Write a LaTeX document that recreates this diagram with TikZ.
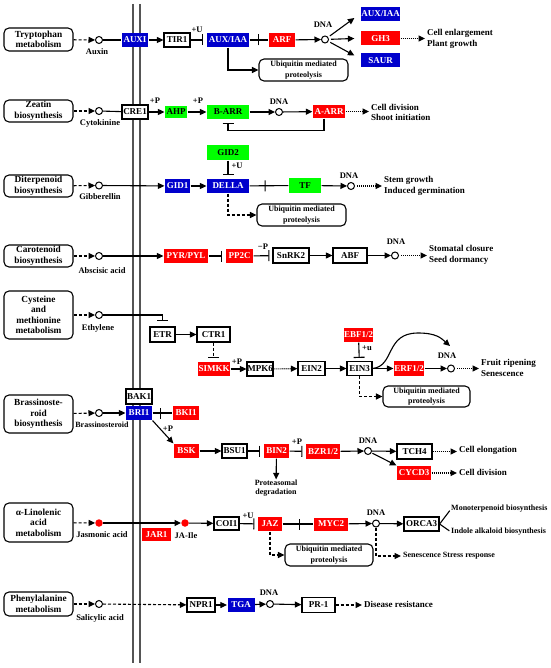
\documentclass[tikz,border=0pt]{standalone}
\usepackage{fontspec}
\setmainfont{Liberation Serif}
\usetikzlibrary{arrows.meta,decorations.markings}
\definecolor{kred}{RGB}{255,0,0}
\definecolor{kblue}{RGB}{0,0,204}
\definecolor{kgreen}{RGB}{0,255,0}
\definecolor{memgray}{RGB}{85,85,85}
\begin{document}
\begin{tikzpicture}[x=1pt, y=-1pt,
  every node/.style={font=\fontsize{9}{10.5}\selectfont\bfseries, align=center, inner sep=0pt},
  gene/.style={rectangle, minimum height=14pt, line width=1.2pt},
  gred/.style={gene, fill=kred, text=white},
  gblue/.style={gene, fill=kblue, text=white},
  ggreen/.style={gene, fill=kgreen, text=black},
  gwhite/.style={gene, draw=black, fill=white},
  pathbox/.style={rectangle, rounded corners=5pt, draw=black, line width=1.1pt, fill=white, minimum width=69pt, font=\fontsize{9.3}{10.5}\selectfont\bfseries},
  ubqbox/.style={rectangle, rounded corners=5pt, draw=black, line width=1.1pt, fill=white, font=\fontsize{8}{10.5}\selectfont\bfseries},
  metab/.style={circle, draw=black, line width=1pt, fill=white, minimum size=7pt},
  jamet/.style={circle, fill=kred, minimum size=7.5pt},
  dnac/.style={circle, draw=black, line width=1pt, fill=white, minimum size=7pt},
  lbl/.style={font=\fontsize{8.5}{10}\selectfont\bfseries},
  small/.style={font=\fontsize{8}{9.5}\selectfont\bfseries},
  outtxt/.style={anchor=west, align=left},
  link/.style={line width=1.1pt},
  arr/.style={link, -{Triangle[length=6.5pt,width=6pt]}},
  darr/.style={arr, dash pattern=on 3pt off 2pt},
  oarr/.style={arr, dash pattern=on 1pt off 1pt},
  inh/.style={link, -{Bar[width=11pt,line width=1.1pt]}, shorten >=3pt},
  dinh/.style={inh, dash pattern=on 3pt off 2pt},
  midbar/.style={postaction={decorate}, decoration={markings, mark=at position #1 with {\draw[line width=1.1pt] (0,-5.5pt) -- (0,5.5pt);}}},
  memline/.style={draw=memgray, line width=2pt}
]
\useasboundingbox (0,0) rectangle (550,668);
% membrane
\draw[memline] (133,4) -- (133,663);
\draw[memline] (140,4) -- (140,663);

% Auxin
\node[pathbox, minimum height=23pt] (trp) at (38.5,39.5) {Tryptophan\\metabolism};
\node[metab] (auxin) at (99,40) {};
\node[lbl] (auxinl) at (97,52) {Auxin};
\node[gblue, minimum width=26pt] (aux1) at (135,40) {AUXI};
\node[gwhite, minimum width=26pt] (tir1) at (177,40) {TIR1};
\node[gblue, minimum width=42pt] (auxiaa) at (228,40) {AUX/IAA};
\node[gred, minimum width=26pt] (arf) at (282,40) {ARF};
\node[dnac] (dna1) at (325,39.5) {};
\node[lbl] (dna1l) at (323,25) {DNA};
\node[gblue, minimum width=39pt] (auxiaa2) at (380.5,14) {AUX/IAA};
\node[gred, minimum width=39pt] (gh3) at (380.5,38.5) {GH3};
\node[gblue, minimum width=39pt] (saur) at (380.5,60.5) {SAUR};
\node[outtxt] (auxout) at (427,39) {Cell enlargement\\Plant growth};
\node[ubqbox, minimum width=89pt, minimum height=22pt] (ubq1) at (303.5,70) {Ubiquitin mediated\\proteolysis};
\node[lbl] (tirU) at (197,30) {+U};
\draw[darr] (trp) -- (auxin);
\draw[link] (auxin) -- (aux1);
\draw[arr] (aux1) -- (tir1);
\draw[inh] (tir1) -- (auxiaa);
\draw[link, midbar=0.45] (auxiaa) -- (arf);
\draw[arr] (auxiaa.south) |- (ubq1.west);
\draw[arr] (arf) -- (dna1);
\draw[arr, shorten <=2pt] (dna1) -- ([xshift=-6pt,yshift=-4pt]auxiaa2.west);
\draw[arr, shorten <=2pt] (dna1) -- ([xshift=-6pt]gh3.west);
\draw[arr, shorten <=2pt] (dna1) -- ([xshift=-6pt,yshift=5pt]saur.west);
\draw[oarr, shorten >=2pt] (gh3) -- (gh3.east -| auxout.west);

% Cytokinine
\node[pathbox, minimum height=22pt] (zea) at (38.5,111) {Zeatin\\biosynthesis};
\node[metab] (ck) at (99,111) {};
\node[lbl] (ckl) at (100,123) {Cytokinine};
\node[gwhite, minimum width=26pt] (cre1) at (135,112) {CRE1};
\node[ggreen, minimum width=22pt, minimum height=12pt] (ahp) at (176,112) {AHP};
\node[ggreen, minimum width=42pt] (barr) at (228,112) {B-ARR};
\node[dnac] (dna2) at (279,112) {};
\node[lbl] (dna2l) at (279,102) {DNA};
\node[gred, minimum width=32pt, minimum height=13pt] (aarr) at (329,111.5) {A-ARR};
\node[outtxt] (ckout) at (371,112.5) {Cell division\\Shoot initiation};
\node[lbl] (creP) at (155,101) {+P};
\node[lbl] (ahpP) at (198,101) {+P};
\draw[darr] (zea) -- (ck);
\draw[link] (ck) -- (cre1);
\draw[arr] (cre1) -- (ahp);
\draw[arr] (ahp) -- (barr);
\draw[arr] (barr) -- (dna2);
\draw[arr] (dna2) -- (aarr);
\draw[oarr, shorten >=2pt] (aarr) -- (aarr.east -| ckout.west);
\draw[inh] ([xshift=-5pt]aarr.south) -- ++(0,12) -| (barr.south);

% Gibberellin
\node[ggreen, minimum width=42pt, minimum height=15pt] (gid2) at (228,152.5) {GID2};
\node[pathbox, minimum height=22pt] (dit) at (38.5,186) {Diterpenoid\\biosynthesis};
\node[metab] (ga) at (99,185.5) {};
\node[lbl] (gal) at (100,197) {Gibberellin};
\node[gblue, minimum width=25pt] (gid1) at (177.5,186) {GID1};
\node[gblue, minimum width=42pt] (della) at (228,186) {DELLA};
\node[ggreen, minimum width=32pt, minimum height=15pt] (tf) at (305,185.5) {TF};
\node[dnac] (dna3) at (351,186) {};
\node[lbl] (dna3l) at (349,176) {DNA};
\node[outtxt] (gaout) at (384,186) {Stem growth\\Induced germination};
\node[ubqbox, minimum width=89pt, minimum height=22pt] (ubq2) at (301.5,215) {Ubiquitin mediated\\proteolysis};
\node[lbl] (gidU) at (237,166) {+U};
\draw[darr] (dit) -- (ga);
\draw[arr] (ga) -- (gid1);
\draw[arr] (gid1) -- (della);
\draw[inh] (gid2) -- (della);
\draw[link, midbar=0.4] (della) -- (tf);
\draw[arr] (tf) -- (dna3);
\draw[oarr, shorten <=2pt, shorten >=2pt] (dna3) -- (dna3 -| gaout.west);
\draw[darr] (della.south) |- (ubq2.west);

% Abscisic acid
\node[pathbox, minimum height=22pt] (car) at (38.5,256) {Carotenoid\\biosynthesis};
\node[metab] (aba) at (99,256) {};
\node[lbl] (abal) at (102,271) {Abscisic acid};
\node[gred, minimum width=44pt] (pyr) at (186,256) {PYR/PYL};
\node[gred, minimum width=27pt] (pp2c) at (239.5,256) {PP2C};
\node[gwhite, minimum width=36pt, minimum height=15pt] (snrk2) at (291,255.5) {SnRK2};
\node[gwhite, minimum width=34pt, minimum height=15pt] (abf) at (350,255.5) {ABF};
\node[dnac] (dna4) at (395,255.5) {};
\node[lbl] (dna4l) at (396,242) {DNA};
\node[outtxt] (abaout) at (429,255) {Stomatal closure\\Seed dormancy};
\node[lbl] (ppP) at (263,247) {−P};
\draw[darr] (car) -- (aba);
\draw[arr] (aba) -- (pyr);
\draw[inh] (pyr) -- (pp2c);
\draw[inh] (pp2c) -- (snrk2);
\draw[arr] (snrk2) -- (abf);
\draw[arr] (abf) -- (dna4);
\draw[oarr, shorten <=2pt, shorten >=2pt] (dna4) -- (dna4 -| abaout.west);

% Ethylene
\node[pathbox, minimum height=48pt] (cys) at (38.5,315) {Cysteine\\and\\methionine\\metabolism};
\node[metab] (eth) at (99,315) {};
\node[lbl] (ethl) at (98,328) {Ethylene};
\node[gwhite, minimum width=25pt, minimum height=15pt] (etr) at (162.5,334.5) {ETR};
\node[gwhite, minimum width=33pt, minimum height=15pt] (ctr1) at (213.5,334.5) {CTR1};
\node[gred, minimum width=32pt] (simkk) at (214,369) {SIMKK};
\node[gwhite, minimum width=26pt] (mpk6) at (260,369) {MPK6};
\node[gwhite, minimum width=27pt] (ein2) at (311.5,368.5) {EIN2};
\node[gwhite, minimum width=25pt] (ein3) at (359.5,368.5) {EIN3};
\node[gred, minimum width=29pt] (ebf) at (358.5,335) {EBF1/2};
\node[gred, minimum width=30pt, minimum height=15pt] (erf) at (409,368.5) {ERF1/2};
\node[dnac] (dna5) at (451,368.5) {};
\node[lbl] (dna5l) at (447,356) {DNA};
\node[outtxt] (ethout) at (481,368) {Fruit ripening\\Senescence};
\node[ubqbox, minimum width=87pt, minimum height=21pt] (ubq3) at (426.5,396.5) {Ubiquitin mediated\\proteolysis};
\node[lbl] (simP) at (237,362) {+P};
\node[lbl] (ebfU) at (367,348) {+u};
\coordinate (ethtop) at (450,346);
\draw[darr] (cys) -- (eth);
\draw[inh, shorten >=5pt] (eth) -| (etr.north);
\draw[arr] (etr) -- (ctr1);
\draw[dinh] (ctr1.south) -- (ctr1.south |- simkk.north);
\draw[arr] (simkk) -- (mpk6);
\draw[oarr] (mpk6) -- (ein2);
\draw[arr] (ein2) -- (ein3);
\draw[inh] (ebf) -- (ein3);
\draw[arr] (ein3) -- (erf);
\draw[arr] (erf) -- (dna5);
\draw[oarr, shorten <=2pt, shorten >=2pt] (dna5) -- (dna5 -| ethout.west);
\draw[arr] (ein3.east) .. controls (395,366) and (385,333) .. (418,333) .. controls (436,333) and (441,338) .. (ethtop);
\draw[darr] (ein3.south) |- (ubq3.west);

% Brassinosteroid
\node[pathbox, minimum height=38pt] (brs) at (38.5,414) {Brassinoste-\\roid\\biosynthesis};
\node[metab] (br) at (99,413) {};
\node[small] (brl) at (102,425) {Brassinosteroid};
\node[gwhite, minimum width=26pt, minimum height=15pt] (bak1) at (139,396.5) {BAK1};
\node[gblue, minimum width=26pt] (bri1) at (139,413) {BRI1};
\node[gred, minimum width=26pt] (bki1) at (186,413) {BKI1};
\node[gred, minimum width=25pt] (bsk) at (186.5,451) {BSK};
\node[gwhite, minimum width=25pt] (bsu1) at (234.5,451) {BSU1};
\node[gred, minimum width=25pt] (bin2) at (276.5,451) {BIN2};
\node[small] (prot) at (276,488) {Proteasomal\\degradation};
\node[gred, minimum width=34pt, minimum height=15pt] (bzr) at (323,451.5) {BZR1/2};
\node[dnac] (dna6) at (368,451) {};
\node[lbl] (dna6l) at (368,441) {DNA};
\node[gwhite, minimum width=35pt, minimum height=15pt] (tch4) at (414.5,451.5) {TCH4};
\node[gred, minimum width=34pt] (cycd3) at (414,473) {CYCD3};
\node[outtxt] (brout1) at (459,450) {Cell elongation};
\node[outtxt] (brout2) at (459,472) {Cell division};
\node[lbl] (briP) at (168,429) {+P};
\node[lbl] (binP) at (297,442) {+P};
\draw[darr] (brs) -- (br);
\draw[arr] (br) -- (bri1);
\draw[link, midbar=0.42] (bri1) -- (bki1);
\draw[arr] (bri1.south east) -- (bsk.north west);
\draw[arr] (bsk) -- (bsu1);
\draw[inh] (bsu1) -- (bin2);
\draw[arr] (bin2) -- (prot);
\draw[inh] (bin2) -- (bzr);
\draw[arr] (bzr) -- (dna6);
\draw[arr] (dna6) -- (tch4);
\draw[arr, shorten <=1pt] (dna6) -- (cycd3.north west);
\draw[oarr, shorten >=2pt] (tch4) -- (tch4 -| brout1.west);
\draw[oarr, shorten >=2pt] (cycd3) -- (cycd3 -| brout2.west);

% Jasmonic acid
\node[pathbox, minimum height=39pt] (aln) at (38.5,522.5) {α-Linolenic\\acid\\metabolism};
\node[jamet] (ja) at (99,523) {};
\node[lbl] (jal) at (102,534.5) {Jasmonic acid};
\node[jamet] (jaile) at (185,523) {};
\node[gred, minimum width=29pt, minimum height=13pt] (jar1) at (156.5,534.5) {JAR1};
\node[lbl] (jailel) at (186,536) {JA-Ile};
\node[gwhite, minimum width=25pt, minimum height=13pt] (coi1) at (226.5,523.5) {COI1};
\node[gred, minimum width=24pt] (jaz) at (270,524) {JAZ};
\node[gred, minimum width=34pt, minimum height=13pt] (myc2) at (331,524) {MYC2};
\node[dnac] (dna7) at (376,523.5) {};
\node[lbl] (dna7l) at (376,513) {DNA};
\node[gwhite, minimum width=35pt] (orca3) at (421.5,524) {ORCA3};
\node[small, outtxt] (mono) at (451,509) {Monoterpenoid biosynthesis};
\node[small, outtxt] (indole) at (451,532) {Indole alkaloid biosynthesis};
\node[small, outtxt] (senes) at (403,556) {Senescence Stress response};
\node[ubqbox, minimum width=88pt, minimum height=22pt] (ubq4) at (329,555) {Ubiquitin mediated\\proteolysis};
\node[lbl] (coiU) at (248,516) {+U};
\draw[darr] (aln) -- (ja);
\draw[arr] (ja) -- (jaile);
\draw[arr] (jaile) -- (coi1);
\draw[inh] (coi1) -- (jaz);
\draw[link, midbar=0.56] (jaz) -- (myc2);
\draw[arr] (myc2) -- (dna7);
\draw[arr] (dna7) -- (orca3);
\draw[link, shorten >=2pt] (orca3.east) -- (mono.west);
\draw[link, shorten >=2pt] (orca3.east) -- (indole.west);
\draw[darr, shorten >=2pt] (dna7.south) |- (senes.west);
\draw[darr] (jaz.south) |- (ubq4.west);

% Salicylic acid
\node[pathbox, minimum height=24pt] (phe) at (38.5,604) {Phenylalanine\\metabolism};
\node[metab] (sa) at (99,604) {};
\node[lbl] (sal) at (100,618) {Salicylic acid};
\node[gwhite, minimum width=28pt] (npr1) at (201,605) {NPR1};
\node[gblue, minimum width=27pt] (tga) at (241,605) {TGA};
\node[dnac] (dna8) at (270,604) {};
\node[lbl] (dna8l) at (269,593) {DNA};
\node[gwhite, minimum width=33pt, minimum height=15pt] (pr1) at (318.5,605) {PR-1};
\node[outtxt] (saout) at (364,604) {Disease resistance};
\draw[darr] (phe) -- (sa);
\draw[darr] (sa) -- (npr1);
\draw[arr] (npr1) -- (tga);
\draw[arr] (tga) -- (dna8);
\draw[arr] (dna8) -- (pr1);
\draw[darr, shorten >=2pt] (pr1) -- (pr1 -| saout.west);
\end{tikzpicture}
\end{document}
